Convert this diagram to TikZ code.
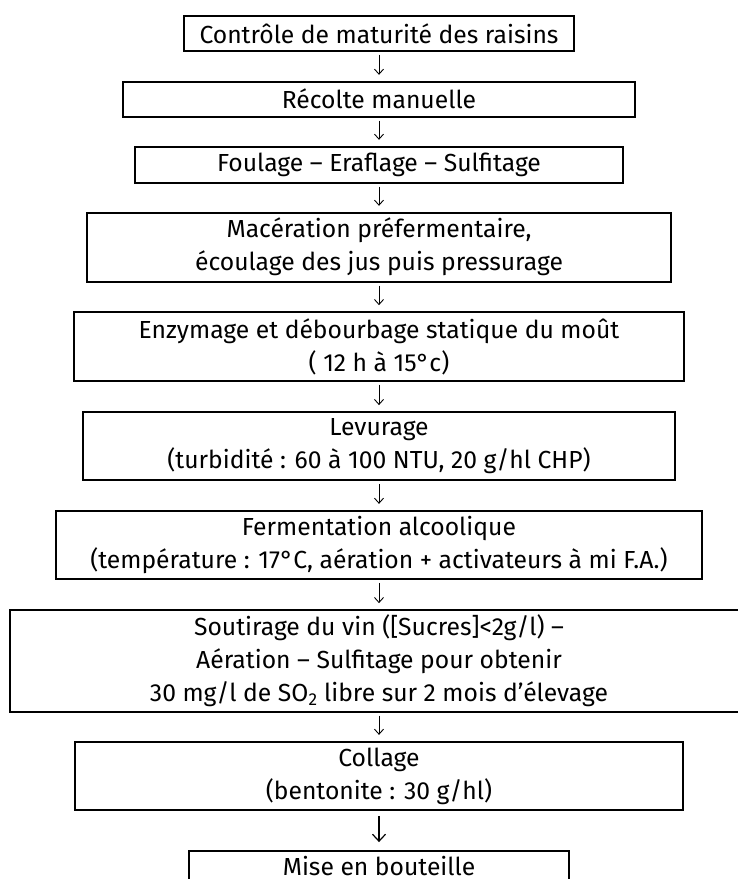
\documentclass[tikz,border=0pt]{standalone}
\usepackage{fontspec}
\setmainfont{Fira Sans}
\usetikzlibrary{arrows.meta}
\newlength\reflen
\begin{document}
\settowidth\reflen{\fontsize{10pt}{12pt}\selectfont Contrôle de maturité des raisins}%
\pgfmathsetmacro\fs{10*359/\reflen}%
\begin{tikzpicture}[x=1pt,y=-1pt]
\tikzset{
  stepbox/.style={draw=black, line width=1.8pt, inner sep=0pt, align=center,
    font=\fontsize{\fs pt}{33pt}\selectfont, text=black},
  flow/.style={draw=black, line width=0.9pt, shorten <=3pt, shorten >=6pt,
    -{Straight Barb[length=5pt,width=9pt,line width=0.9pt]}},
  bigflow/.style={draw=black, line width=1.2pt, shorten <=5pt, shorten >=8pt,
    -{Straight Barb[length=7pt,width=13pt,line width=1.2pt]}}
}
\useasboundingbox (0,0) rectangle (737,879);
\fill[white] (0,0) rectangle (737,879);

\node[stepbox, minimum width=390pt, minimum height=35pt] (b1) at (379,33.3)
  {Contrôle de maturité des raisins};
\node[stepbox, minimum width=512.6pt, minimum height=35pt] (b2) at (379,99.2)
  {Récolte manuelle};
\node[stepbox, minimum width=488.6pt, minimum height=36pt] (b3) at (379,164.7)
  {Foulage – Eraflage – Sulfitage};
\node[stepbox, minimum width=584pt, minimum height=69pt] (b4) at (379,247.2)
  {Macération préfermentaire,\\ écoulage des jus puis pressurage};
\node[stepbox, minimum width=610pt, minimum height=68.7pt] (b5) at (379,346.4)
  {Enzymage et débourbage statique du moût\\( 12 h à 15°c)};
\node[stepbox, minimum width=592pt, minimum height=68pt] (b6) at (379,446)
  {Levurage\\(turbidité : 60 à 100 NTU, 20 g/hl CHP)};
\node[stepbox, minimum width=646pt, minimum height=68.3pt] (b7) at (379,544.9)
  {Fermentation alcoolique\\(température : 17°C, aération + activateurs à mi F.A.)};
\node[stepbox, minimum width=738pt, minimum height=101.7pt] (b8) at (379,660.9)
  {Soutirage du vin ([Sucres]<2g/l) –\\Aération – Sulfitage pour obtenir\\30 mg/l de SO\textsubscript{2} libre sur 2 mois d’élevage};
\node[stepbox, minimum width=608pt, minimum height=68.3pt] (b9) at (379,775.9)
  {Collage\\(bentonite : 30 g/hl)};
\node[stepbox, minimum width=380.6pt, minimum height=31pt] (b10) at (379,866.5)
  {Mise en bouteille};

\foreach \a/\b in {b1/b2,b2/b3,b3/b4,b4/b5,b5/b6,b6/b7,b7/b8,b8/b9}
  \draw[flow] (\a.south) -- (\b.north);
\draw[bigflow] (b9.south) -- (b10.north);
\end{tikzpicture}
\end{document}
